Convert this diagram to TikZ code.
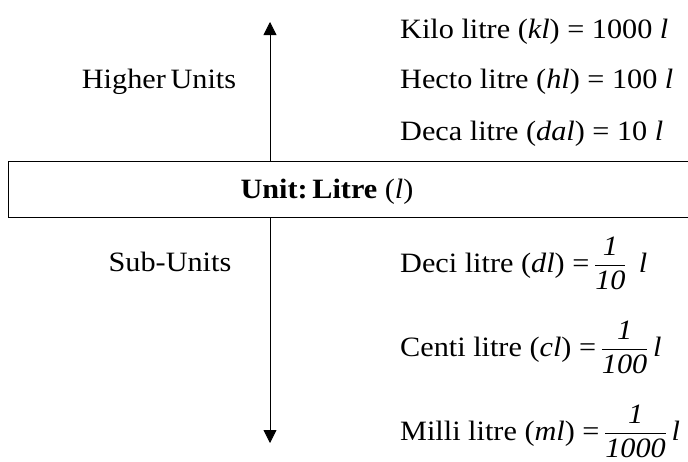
\documentclass[tikz,border=0pt]{standalone}
\usepackage{amsmath}
\usepackage{fontspec}
\setmainfont{Liberation Serif}[FakeStretch=1.08]
\usetikzlibrary{arrows.meta}

\begin{document}
\begin{tikzpicture}[x=1pt, y=-1pt, >={Triangle[length=13pt,width=13pt]},
    every node/.style={font=\fontsize{28}{32}\selectfont, inner sep=0pt},
    unitrow/.style={anchor=base west}]
    \useasboundingbox (0,0) rectangle (688,461);

    \node[draw, thick, minimum width=680pt, minimum height=56pt, anchor=north west] (unit) at (8,161) {};
    \node[anchor=base] (unitlabel) at (327,198) {\textbf{Unit:\,Litre} (\textit{l})};

    \coordinate (up) at (270,22);
    \coordinate (down) at (270,443);
    \draw[->, thick] (unit.north -| up) -- (up);
    \draw[->, thick] (unit.south -| down) -- (down);

    \node[anchor=base] (higher) at (159,88) {Higher\,Units};
    \node[anchor=base] (sub) at (170,271) {Sub-Units};

    \node[unitrow] (kilo) at (400,38) {Kilo litre (\textit{kl}) = 1000 \textit{l}};
    \node[unitrow] (hecto) at (400,88) {Hecto litre (\textit{hl}) = 100 \textit{l}};
    \node[unitrow] (deca) at (400,140) {Deca litre (\textit{dal}) = 10 \textit{l}};

    \node[unitrow] (deci) at (400,272) {Deci litre (\textit{dl}) =\,$\dfrac{\textit{1}}{\textit{10}}$\, \textit{l}};
    \node[unitrow] (centi) at (400,356) {Centi litre (\textit{cl}) =\,$\dfrac{\textit{1}}{\textit{100}}$\,\textit{l}};
    \node[unitrow] (milli) at (400,440) {Milli litre (\textit{ml}) =\,$\dfrac{\textit{1}}{\textit{1000}}$\,\textit{l}};
\end{tikzpicture}
\end{document}
